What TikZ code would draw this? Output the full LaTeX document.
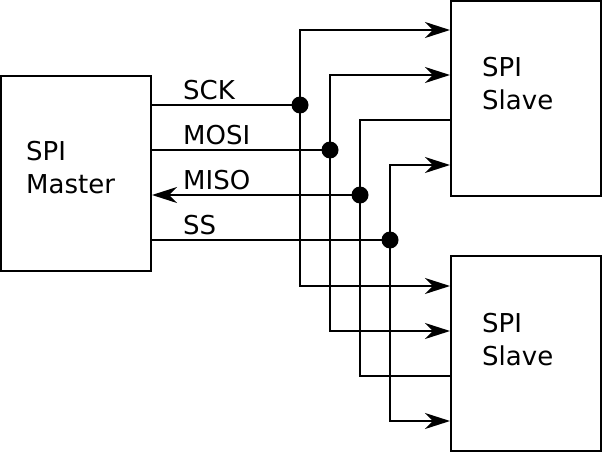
\documentclass[tikz,border=0pt]{standalone}
\usepackage{fontspec}
\setmainfont{DejaVu Sans}
\usetikzlibrary{arrows.meta}
\tikzset{
  box/.style={draw, line width=2pt, minimum width=150pt, minimum height=195pt, inner sep=0pt},
  lbl/.style={anchor=base west, inner sep=0pt, font=\fontsize{26}{32}\selectfont},
  wire/.style={line width=2pt, >={Stealth[length=25pt, width=16pt, inset=8pt]}},
  junction/.style={circle, fill, inner sep=0pt, minimum size=17pt}
}
\begin{document}
\begin{tikzpicture}[x=1pt, y=-1pt]
    \useasboundingbox (0,0) rectangle (602,452);

    % Master
    \node[box] (master) at (76,173.5) {};
    \node[lbl] (masterA) at (26,160) {SPI};
    \node[lbl] (masterB) at (26,193) {Master};

    % Slaves
    \node[box] (slaveA) at (526,98.5) {};
    \node[lbl] (slaveAa) at (482,76) {SPI};
    \node[lbl] (slaveAb) at (482,109) {Slave};

    \node[box] (slaveB) at (526,353.5) {};
    \node[lbl] (slaveBa) at (482,332) {SPI};
    \node[lbl] (slaveBb) at (482,365) {Slave};

    % Signal names
    \node[lbl] (sck) at (183,99) {SCK};
    \node[lbl] (mosi) at (183,144) {MOSI};
    \node[lbl] (miso) at (183,189) {MISO};
    \node[lbl] (ss) at (183,234) {SS};

    % Bus points
    \coordinate (jSCK) at (300,105);
    \coordinate (jMOSI) at (330,150);
    \coordinate (jMISO) at (360,195);
    \coordinate (jSS) at (390,240);

    \coordinate (tSCK) at (300,30);
    \coordinate (bSCK) at (300,286);
    \coordinate (tMOSI) at (330,75);
    \coordinate (bMOSI) at (330,331);
    \coordinate (tMISO) at (360,120);
    \coordinate (bMISO) at (360,376);
    \coordinate (tSS) at (390,165);
    \coordinate (bSS) at (390,421);

    % Lines from master
    \draw[wire] (master.east |- jSCK) -- (jSCK);
    \draw[wire] (master.east |- jMOSI) -- (jMOSI);
    \draw[wire, ->] (jMISO) -- (master.east |- jMISO);
    \draw[wire] (master.east |- jSS) -- (jSS);

    % Buses to slaves
    \draw[wire, <->] (slaveA.west |- tSCK) -- (tSCK) -- (bSCK) -- (slaveB.west |- bSCK);
    \draw[wire, <->] (slaveA.west |- tMOSI) -- (tMOSI) -- (bMOSI) -- (slaveB.west |- bMOSI);
    \draw[wire] (slaveA.west |- tMISO) -- (tMISO) -- (bMISO) -- (slaveB.west |- bMISO);
    \draw[wire, <->] (slaveA.west |- tSS) -- (tSS) -- (bSS) -- (slaveB.west |- bSS);

    % Junctions
    \node[junction] (dSCK) at (jSCK) {};
    \node[junction] (dMOSI) at (jMOSI) {};
    \node[junction] (dMISO) at (jMISO) {};
    \node[junction] (dSS) at (jSS) {};
\end{tikzpicture}
\end{document}
